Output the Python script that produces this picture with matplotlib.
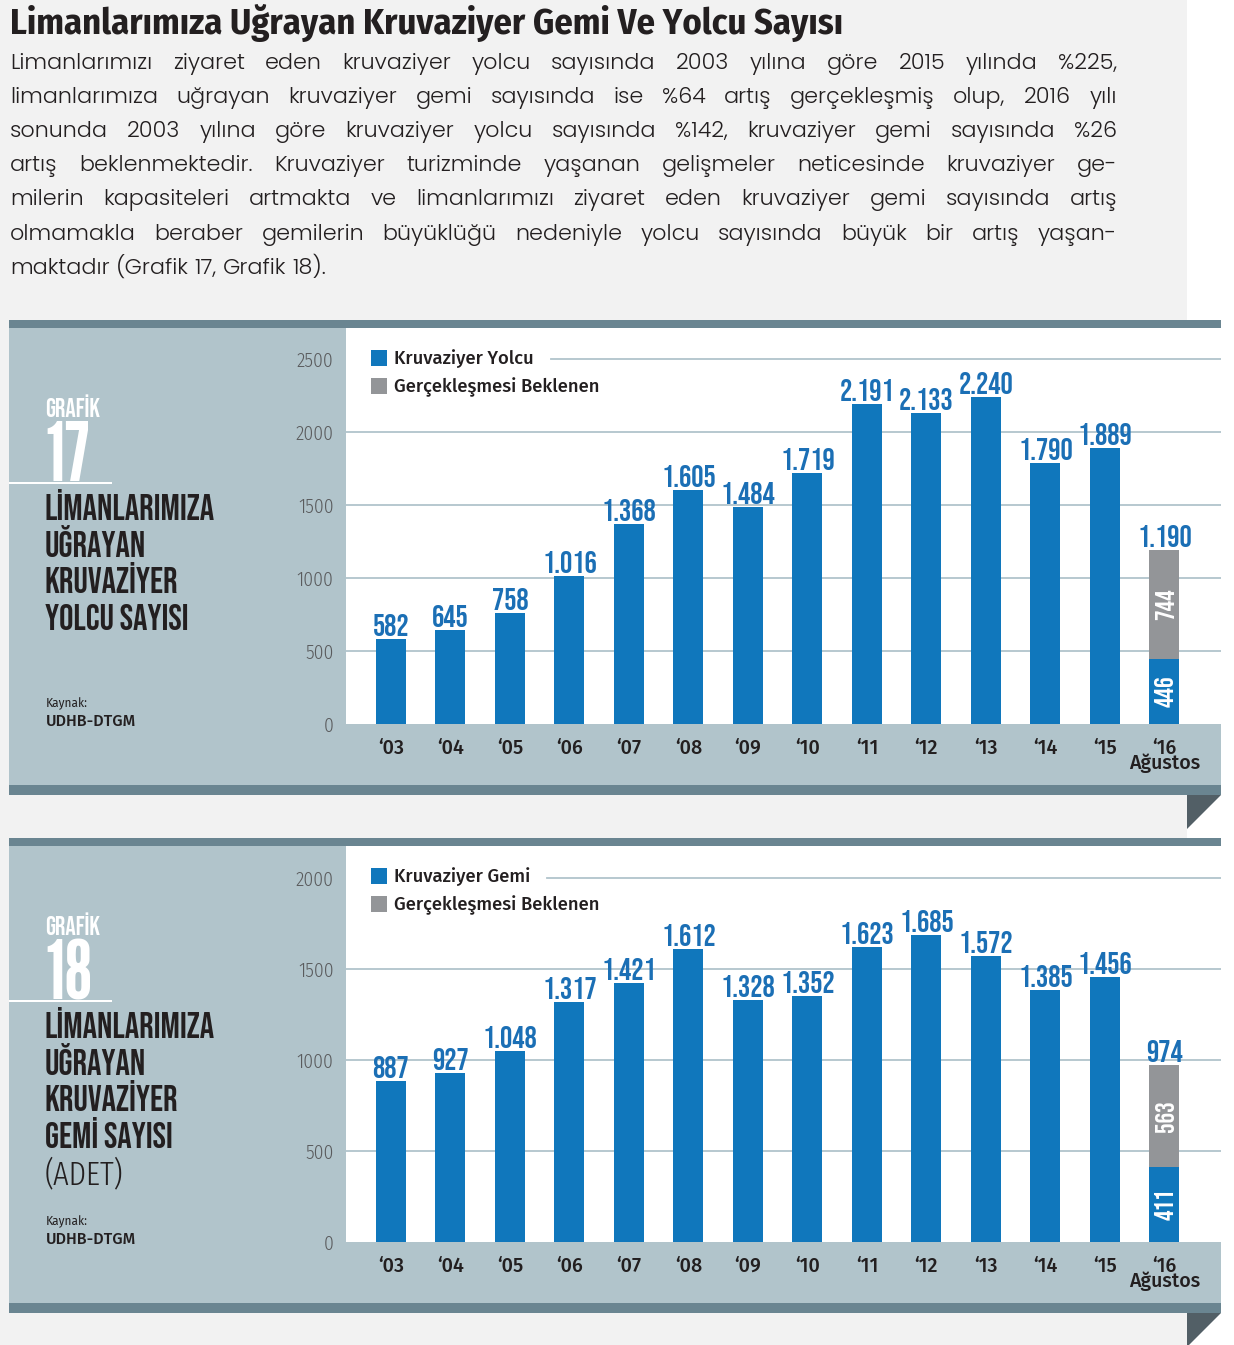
import matplotlib
matplotlib.use("Agg")
import matplotlib.pyplot as plt
from matplotlib.patches import Rectangle, Polygon
from matplotlib import font_manager as fm

W, H, DPI = 1234, 1345, 100

# ---------------- data ----------------
years = ["03", "04", "05", "06", "07", "08", "09", "10", "11", "12", "13", "14", "15", "16"]
last_year_note = "Ağustos"
yolcu = [582, 645, 758, 1016, 1368, 1605, 1484, 1719, 2191, 2133, 2240, 1790, 1889]
yolcu_2016_real = 446
yolcu_2016_expected = 744
gemi = [887, 927, 1048, 1317, 1421, 1612, 1328, 1352, 1623, 1685, 1572, 1385, 1456]
gemi_2016_real = 411
gemi_2016_expected = 563
yolcu_ticks = [0, 500, 1000, 1500, 2000, 2500]
gemi_ticks = [0, 500, 1000, 1500, 2000]

title = "Limanlarımıza Uğrayan Kruvaziyer Gemi Ve Yolcu Sayısı"
body_lines = [
    "Limanlarımızı ziyaret eden kruvaziyer yolcu sayısında 2003 yılına göre 2015 yılında %225,",
    "limanlarımıza uğrayan kruvaziyer gemi sayısında ise %64 artış gerçekleşmiş olup, 2016 yılı",
    "sonunda 2003 yılına göre kruvaziyer yolcu sayısında %142, kruvaziyer gemi sayısında %26",
    "artış beklenmektedir. Kruvaziyer turizminde yaşanan gelişmeler neticesinde kruvaziyer ge-",
    "milerin kapasiteleri artmakta ve limanlarımızı ziyaret eden kruvaziyer gemi sayısında artış",
    "olmamakla beraber gemilerin büyüklüğü nedeniyle yolcu sayısında büyük bir artış yaşan-",
    "maktadır (Grafik 17, Grafik 18).",
]

# ---------------- style ----------------
PAGE = "#f2f2f2"
DARK = "#6a8591"
PANEL = "#b1c4cb"
FOLD = "#525f66"
BLUE = "#1077bc"
LBLUE = "#1b6fb5"
GRAY = "#939598"
TXT = "#231f20"
TICK = "#5a5b5d"
GRID = "#b1c4cb"

avail = {(f.name, int(f.weight) if str(f.weight).isdigit() else f.weight) for f in fm.fontManager.ttflist}


def pick(cands):
    for n, w in cands:
        if (n, w) in avail:
            return n, w
    return "DejaVu Sans", 400


BODY_FONT, BODY_W = pick([("Montserrat", 300), ("Lexend Deca", 300), ("Poppins", 300),
                          ("Lato", 300), ("Open Sans", 300), ("Fira Sans", 300)])

COND_BOLD = ["Bebas Neue", "DejaVu Sans"]
BIGNUM = ["League Gothic", "Bebas Neue", "DejaVu Sans"]
FIRA = ["Fira Sans", "DejaVu Sans"]


def tr(v):
    return f"{v:,}".replace(",", ".")


fig = plt.figure(figsize=(W / DPI, H / DPI), dpi=DPI)
fig.patch.set_facecolor("white")

bg = fig.add_axes([0, 0, 1, 1], zorder=0)
bg.set_xlim(0, W)
bg.set_ylim(H, 0)
bg.axis("off")

fg = fig.add_axes([0, 0, 1, 1], zorder=10)
fg.set_xlim(0, W)
fg.set_ylim(H, 0)
fg.axis("off")
fg.patch.set_alpha(0)

bg.add_patch(Rectangle((0, 0), 1187, H, color=PAGE, lw=0))

# ---------------- heading + justified body ----------------
fg.text(10, 34, title, family=["Fira Sans Condensed", "DejaVu Sans"], weight=700,
        fontsize=26.2, color=TXT, va="baseline", ha="left")

renderer = fig.canvas.get_renderer()
x_left, x_right = 10, 1117
base0, step = 69, 34.1
BODY_SIZE = 16
for i, line in enumerate(body_lines):
    words = line.split(" ")
    y = base0 + i * step
    ts = [fg.text(0, y, w, family=[BODY_FONT, "DejaVu Sans"], weight=BODY_W, fontsize=BODY_SIZE,
                  color=TXT, va="baseline", ha="left") for w in words]
    widths = [t.get_window_extent(renderer).width for t in ts]
    if i == len(body_lines) - 1:
        sp = fg.text(0, y, "a a", family=[BODY_FONT], weight=BODY_W, fontsize=BODY_SIZE)
        sp2 = fg.text(0, y, "aa", family=[BODY_FONT], weight=BODY_W, fontsize=BODY_SIZE)
        gap = sp.get_window_extent(renderer).width - sp2.get_window_extent(renderer).width
        sp.remove()
        sp2.remove()
    else:
        gap = (x_right - x_left - sum(widths)) / (len(words) - 1)
    x = x_left
    for t, w in zip(ts, widths):
        t.set_x(x)
        x += w + gap


def px_axes(x0, y0, x1, y1):
    return [x0 / W, 1 - y1 / H, (x1 - x0) / W, (y1 - y0) / H]


def chart(dy, values, real16, exp16, ticks, ymax, legend_label, number, title_lines, extra_line,
          grid_start):
    # frame
    bg.add_patch(Rectangle((9, 320 + dy), 1212, 8, color=DARK, lw=0))
    bg.add_patch(Rectangle((9, 328 + dy), 1212, 457, color=PANEL, lw=0))
    bg.add_patch(Rectangle((9, 785 + dy), 1212, 10, color=DARK, lw=0))
    bg.add_patch(Polygon([(1187, 795 + dy), (1221, 795 + dy), (1187, 829 + dy)], closed=True,
                         color=FOLD, lw=0))

    ax = fig.add_axes(px_axes(346, 328 + dy, 1221, 724 + dy), zorder=5)
    ax.set_facecolor("white")
    for s in ax.spines.values():
        s.set_visible(False)
    ax.set_xlim(-0.756, 13.95)
    ax.set_ylim(0, ymax)

    xs = list(range(len(values)))
    bw = 0.504
    c_main = ax.bar(xs, values, width=bw, color=BLUE, zorder=3)
    c_real = ax.bar(len(values), real16, width=bw, color=BLUE, zorder=3)
    c_exp = ax.bar(len(values), exp16, bottom=real16, width=bw, color=GRAY, zorder=3)

    # gridlines
    top = max(ticks)
    for t in ticks[1:]:
        xmin = (grid_start - 346) / 875 if t == top else 0
        ax.axhline(t, xmin=xmin, xmax=1, color=GRID, lw=1.3, zorder=1)

    # ticks
    ax.set_yticks(ticks)
    ax.set_yticklabels([str(t) for t in ticks], family=["Fira Sans Condensed", "DejaVu Sans"],
                       fontsize=14, color=TICK, weight=300)
    labels = ["\u2018" + y for y in years]
    labels[-1] = labels[-1] + "\n" + last_year_note
    ax.set_xticks(list(range(len(years))))
    ax.set_xticklabels(labels, family=FIRA, weight=500, fontsize=14.2, color=TXT, linespacing=0.76)
    ax.tick_params(axis="y", length=0, pad=9)
    ax.tick_params(axis="x", length=0, pad=10.2)

    # value labels
    lab_kw = dict(family=COND_BOLD, fontsize=22, color=LBLUE)
    ax.bar_label(c_main, labels=[tr(v) for v in values], padding=2.2, **lab_kw)
    ax.bar_label(c_exp, labels=[tr(real16 + exp16)], padding=2.2, **lab_kw)
    in_kw = dict(family=COND_BOLD, fontsize=19, color="white", rotation=90, label_type="center")
    ax.bar_label(c_real, labels=[tr(real16)], **in_kw)
    ax.bar_label(c_exp, labels=[tr(exp16)], **in_kw)

    # legend
    fg.add_patch(Rectangle((371, 350 + dy), 16, 16, color=BLUE, lw=0))
    fg.add_patch(Rectangle((371, 378 + dy), 16, 16, color=GRAY, lw=0))
    fg.text(394, 364.5 + dy, legend_label, family=FIRA, weight=500, fontsize=13.3, color=TXT,
            va="baseline")
    fg.text(394, 392.5 + dy, "Gerçekleşmesi Beklenen", family=FIRA, weight=500, fontsize=13.3,
            color=TXT, va="baseline")

    # left panel
    fg.text(45, 417 + dy, "GRAFİK", family=COND_BOLD, fontsize=18.5, color="white", va="baseline")
    fg.text(45, 481 + dy, number, family=BIGNUM, fontsize=58.5, color="white", va="baseline")
    fg.add_patch(Rectangle((9, 481.5 + dy), 103, 2.6, color="white", lw=0))
    for k, tl in enumerate(title_lines):
        fg.text(45, 520 + dy + k * 36.6, tl, family=COND_BOLD, fontsize=25.8, color=TXT,
                va="baseline")
    if extra_line:
        fg.text(45, 520 + dy + len(title_lines) * 36.6, extra_line,
                family=["Fira Sans Extra Condensed", "DejaVu Sans"], weight=300, fontsize=24,
                color=TXT, va="baseline")
    fg.text(46, 707 + dy, "Kaynak:", family=FIRA, weight=400, fontsize=8.6, color=TXT, va="baseline")
    fg.text(46, 726 + dy, "UDHB-DTGM", family=FIRA, weight=500, fontsize=11.6, color=TXT,
            va="baseline")
    return ax


chart(0, yolcu, yolcu_2016_real, yolcu_2016_expected, yolcu_ticks, 396 / 0.146,
      "Kruvaziyer Yolcu", "17", ["LİMANLARIMIZA", "UĞRAYAN", "KRUVAZİYER", "YOLCU SAYISI"], None, 551)
chart(518, gemi, gemi_2016_real, gemi_2016_expected, gemi_ticks, 396 / 0.182,
      "Kruvaziyer Gemi", "18", ["LİMANLARIMIZA", "UĞRAYAN", "KRUVAZİYER", "GEMİ SAYISI"], "(ADET)", 547)

fig.savefig("out.png", dpi=DPI, facecolor=fig.get_facecolor())
